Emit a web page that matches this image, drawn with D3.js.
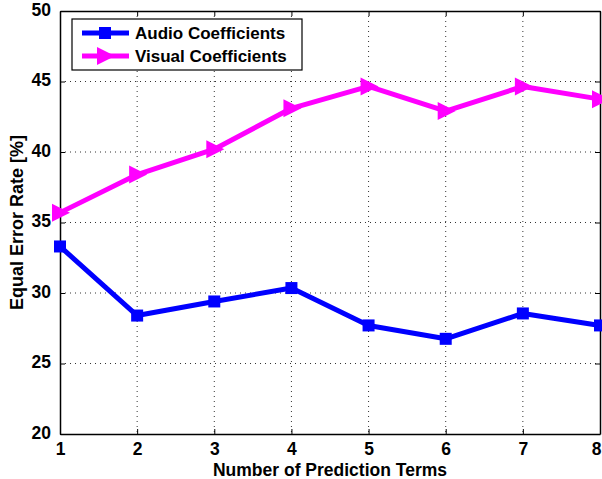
<!DOCTYPE html>
<html>
<head>
<meta charset="utf-8">
<script src="https://cdn.jsdelivr.net/npm/d3@7"></script>
<style>
  body { margin: 0; background: #fff; }
  text { font-family: "Liberation Sans", Arial, sans-serif; font-weight: bold; }
</style>
</head>
<body>
<script>
// data
const terms = [1, 2, 3, 4, 5, 6, 7, 8]
const audioEER = [33.3, 28.4, 29.4, 30.35, 27.7, 26.75, 28.55, 27.7]
const visualEER = [35.7, 38.4, 40.2, 43.1, 44.65, 42.9, 44.65, 43.75]
const yTicks = [20, 25, 30, 35, 40, 45, 50]
const seriesNames = ['Audio Coefficients', 'Visual Coefficients']

var w = 602
var h = 479
var mLeft = 60, mRight = 600, mTop = 11, mBottom = 434

var svg = d3.select('body').append('svg')
  .attr('width', w)
  .attr('height', h)

var x = d3.scaleLinear().domain([1, 8]).range([mLeft, mRight])
var y = d3.scaleLinear().domain([20, 50]).range([mBottom, mTop])

// dotted grid
svg.append('g').selectAll('line')
  .data(terms.slice(1, -1))
  .enter().append('line')
  .attr('x1', d => x(d)).attr('x2', d => x(d))
  .attr('y1', mTop).attr('y2', mBottom)
  .attr('stroke', '#333').attr('stroke-width', 1)
  .attr('stroke-dasharray', '1,4')

svg.append('g').selectAll('line')
  .data(yTicks.slice(1, -1))
  .enter().append('line')
  .attr('x1', mLeft).attr('x2', mRight)
  .attr('y1', d => y(d)).attr('y2', d => y(d))
  .attr('stroke', '#333').attr('stroke-width', 1)
  .attr('stroke-dasharray', '1,4')

// axes, ticks pointing inward on all sides
var xAxis = svg.append('g')
  .attr('transform', `translate(0,${mBottom})`)
  .call(d3.axisBottom(x).tickValues(terms).tickFormat(d3.format('d')).tickSizeInner(-5).tickSizeOuter(0).tickPadding(10))
svg.append('g')
  .attr('transform', `translate(0,${mTop})`)
  .call(d3.axisTop(x).tickValues(terms).tickSizeInner(-5).tickSizeOuter(0).tickFormat(''))
var yAxis = svg.append('g')
  .attr('transform', `translate(${mLeft},0)`)
  .call(d3.axisLeft(y).tickValues(yTicks).tickSizeInner(-5).tickSizeOuter(0).tickPadding(9))
svg.append('g')
  .attr('transform', `translate(${mRight},0)`)
  .call(d3.axisRight(y).tickValues(yTicks).tickSizeInner(-5).tickSizeOuter(0).tickFormat(''))

svg.selectAll('.domain').attr('stroke', '#000').attr('stroke-width', 1.5)
svg.selectAll('.tick line').attr('stroke', '#000')
svg.selectAll('.tick text')
  .attr('fill', '#000')
  .style('font-size', '17.5px')
  .style('font-family', '"Liberation Sans", Arial, sans-serif')
  .style('font-weight', 'bold')
yAxis.selectAll('.tick text').attr('dy', '0.25em')
xAxis.selectAll('.tick text').attr('dy', '0.6em')
xAxis.selectAll('.tick text').filter(d => d === 8).attr('dx', -4)

// lines
var line = d3.line().x((d, i) => x(terms[i])).y(d => y(d))

svg.append('path').datum(audioEER)
  .attr('d', line).attr('fill', 'none')
  .attr('stroke', '#0000ff').attr('stroke-width', 5).attr('stroke-linejoin', 'round')

svg.append('path').datum(visualEER)
  .attr('d', line).attr('fill', 'none')
  .attr('stroke', '#ff00ff').attr('stroke-width', 5).attr('stroke-linejoin', 'round')

// markers
svg.append('g').selectAll('rect')
  .data(audioEER)
  .enter().append('rect')
  .attr('x', (d, i) => x(terms[i]) - 6)
  .attr('y', d => y(d) - 6)
  .attr('width', 12).attr('height', 12)
  .attr('fill', '#0000ff')

var tri = 'M-8,-9L10,0L-8,9Z'
svg.append('g').selectAll('path')
  .data(visualEER)
  .enter().append('path')
  .attr('transform', (d, i) => `translate(${x(terms[i])},${y(d)})`)
  .attr('d', tri)
  .attr('fill', '#ff00ff')

// axis titles
svg.append('text')
  .attr('x', 330).attr('y', 476)
  .attr('text-anchor', 'middle')
  .style('font-size', '17.5px')
  .text('Number of Prediction Terms')

svg.append('text')
  .attr('transform', `translate(23,${(mTop + mBottom) / 2}) rotate(-90)`)
  .attr('text-anchor', 'middle')
  .style('font-size', '18px')
  .text('Equal Error Rate [%]')

// legend
var lg = svg.append('g').attr('transform', 'translate(72,19)')
lg.append('rect')
  .attr('width', 230).attr('height', 51)
  .attr('fill', '#fff').attr('stroke', '#000').attr('stroke-width', 1.2)

var colors = ['#0000ff', '#ff00ff']
seriesNames.forEach(function (name, i) {
  var cy = 14 + i * 23
  lg.append('line')
    .attr('x1', 10).attr('x2', 57).attr('y1', cy).attr('y2', cy)
    .attr('stroke', colors[i]).attr('stroke-width', 5)
  if (i === 0) {
    lg.append('rect').attr('x', 27).attr('y', cy - 6).attr('width', 12).attr('height', 12).attr('fill', colors[i])
  } else {
    lg.append('path').attr('transform', `translate(33,${cy})`).attr('d', tri).attr('fill', colors[i])
  }
  lg.append('text')
    .attr('x', 63).attr('y', cy + 6)
    .style('font-size', '17px')
    .text(name)
})
</script>
</body>
</html>
